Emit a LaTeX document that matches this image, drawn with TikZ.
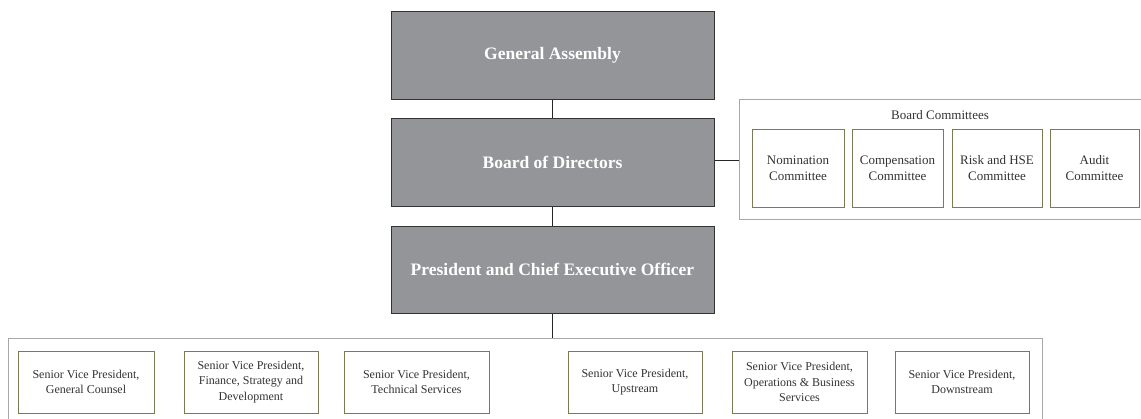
\documentclass[tikz,border=0pt]{standalone}
\usepackage{fontspec}
\setmainfont{Liberation Serif}
\begin{document}
\begin{tikzpicture}[x=1pt,y=-1pt,
  mainbox/.style={draw=black!80, line width=1pt, fill=boxgray, text=white,
    font=\fontsize{17.5}{21}\selectfont\bfseries, minimum width=323pt, inner sep=0pt},
  subbox/.style={draw=olivebd, line width=1pt, fill=white, text=black!80,
    font=\fontsize{12}{15.5}\selectfont, align=center, inner sep=0pt},
  combox/.style={subbox, font=\fontsize{13}{16}\selectfont, minimum height=78pt},
  grp/.style={draw=grpgray, line width=0.8pt},
  conn/.style={draw=black!85, line width=0.9pt}]
\definecolor{boxgray}{HTML}{939598}
\definecolor{olivebd}{HTML}{7A7A55}
\definecolor{grpgray}{HTML}{A8A8A8}
\useasboundingbox (0,0) rectangle (1141,418);
% main chain
\node[mainbox, minimum height=88pt] (ga) at (552.5,55) {General Assembly};
\node[mainbox, minimum height=88pt] (bod) at (552.5,162) {Board of Directors};
\node[mainbox, minimum height=87pt] (ceo) at (552.5,269.5) {President and Chief Executive Officer};
% committees group
\coordinate (cgl) at (739,160);
\draw[grp] (1141,99) -- (739,99) -- (739,219) -- (1141,219);
\node[font=\fontsize{13}{16}\selectfont, text=black!80] (bctitle) at (940,115) {Board Committees};
\node[combox, minimum width=92pt] (c1) at (798,168) {Nomination\\Committee};
\node[combox, minimum width=91pt] (c2) at (897.5,168) {Compensation\\Committee};
\node[combox, minimum width=90pt] (c3) at (997,168) {Risk and HSE\\Committee};
\node[combox, minimum width=89pt] (c4) at (1094.5,168) {Audit\\Committee};
% SVP group
\coordinate (sgt) at (552.5,338);
\draw[grp] (8,420) -- (8,338) -- (1042,338) -- (1042,420);
\node[subbox, minimum width=136pt, minimum height=62pt] (s1) at (86,382) {Senior Vice President,\\General Counsel};
\node[subbox, minimum width=134pt, minimum height=62pt] (s2) at (251,382) {Senior Vice President,\\Finance, Strategy and\\Development};
\node[subbox, minimum width=145pt, minimum height=62pt] (s3) at (416.5,382) {Senior Vice President,\\Technical Services};
\node[subbox, minimum width=134pt, minimum height=62pt] (s4) at (635,382) {Senior Vice President,\\Upstream};
\node[subbox, minimum width=135pt, minimum height=62pt] (s5) at (799.5,382) {Senior Vice President,\\Operations \& Business\\Services};
\node[subbox, minimum width=134pt, minimum height=62pt] (s6) at (962,382) {Senior Vice President,\\Downstream};
% connectors
\draw[conn] (ga.south) -- (bod.north);
\draw[conn] (bod.south) -- (ceo.north);
\draw[conn] (ceo.south) -- (sgt);
\draw[conn] (bod.east |- cgl) -- (cgl);
\end{tikzpicture}
\end{document}
